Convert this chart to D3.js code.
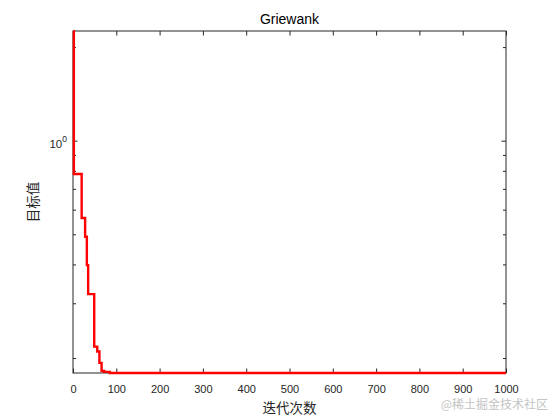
<!DOCTYPE html>
<html>
<head>
<meta charset="utf-8">
<script src="https://cdn.jsdelivr.net/npm/d3@7"></script>
<style>
  html, body { margin: 0; padding: 0; background: #fff; }
  svg { display: block; }
</style>
</head>
<body>
<svg id="chart" width="560" height="420"></svg>
<script>
// ---- data ----
const iterations = [1, 2, 20, 28, 32, 35, 49, 56, 61, 66, 72, 85, 1000];
const fitness    = [2.25, 0.781, 0.564, 0.491, 0.398, 0.321, 0.2176, 0.21, 0.193, 0.1817, 0.1805, 0.179, 0.179];
const xTicks = [0, 100, 200, 300, 400, 500, 600, 700, 800, 900, 1000];
const yMajorTicks = [1];
const yMinorTicks = [0.2, 0.3, 0.4, 0.5, 0.6, 0.7, 0.8, 0.9, 2];
const xDomain = [0, 1000];
const yDomain = [0.179, 2.253];
const titleText = "Griewank";
const xLabelText = "迭代次数";
const yLabelText = "目标值";
const watermarkText = "@稀土掘金技术社区";

// ---- layout ----
const L = 73, R = 506, T = 31, B = 373;
const axisColor = "#262626";
const numFont = "'Liberation Sans', Arial, Helvetica, sans-serif";
const cjkFont = "'Noto Sans CJK SC', sans-serif";

const svg = d3.select("#chart");
svg.append("rect").attr("width", 560).attr("height", 420).attr("fill", "#fff");

const x = d3.scaleLinear().domain(xDomain).range([L, R]);
const y = d3.scaleLog().domain(yDomain).range([B, T]);

function styleAxis(g) {
  g.select(".domain").remove();
  g.selectAll(".tick line").attr("stroke", axisColor).attr("stroke-width", 1);
  g.selectAll(".tick text").attr("fill", axisColor)
    .style("font-family", numFont).style("font-size", "11px");
}

// bottom x axis
svg.append("g").attr("transform", `translate(0,${B})`)
  .call(d3.axisBottom(x).tickValues(xTicks).tickSize(-4.5).tickPadding(12.5).tickFormat(d3.format("d")))
  .call(styleAxis);
// top x axis (ticks only)
svg.append("g").attr("transform", `translate(0,${T})`)
  .call(d3.axisTop(x).tickValues(xTicks).tickSize(-4.5).tickFormat(""))
  .call(styleAxis);

// left y axis major
const yLeft = svg.append("g").attr("transform", `translate(${L},0)`)
  .call(d3.axisLeft(y).tickValues(yMajorTicks).tickSize(-4.5).tickPadding(6))
  .call(styleAxis);
yLeft.selectAll(".tick text").each(function(d) {
  const t = d3.select(this).text(null).attr("dy", "0.55em").style("font-size", "11.5px");
  t.append("tspan").text("10");
  t.append("tspan").attr("dy", "-0.6em").style("font-size", "8.5px")
    .text(String(Math.round(Math.log10(d))));
});
// left y minor
svg.append("g").attr("transform", `translate(${L},0)`)
  .call(d3.axisLeft(y).tickValues(yMinorTicks).tickSize(-3).tickFormat(""))
  .call(styleAxis);
// right y major & minor
svg.append("g").attr("transform", `translate(${R},0)`)
  .call(d3.axisRight(y).tickValues(yMajorTicks).tickSize(-4.5).tickFormat(""))
  .call(styleAxis);
svg.append("g").attr("transform", `translate(${R},0)`)
  .call(d3.axisRight(y).tickValues(yMinorTicks).tickSize(-3).tickFormat(""))
  .call(styleAxis);

// box
svg.append("rect")
  .attr("x", x(xDomain[0])).attr("y", y(yDomain[1]))
  .attr("width", x(xDomain[1]) - x(xDomain[0]))
  .attr("height", y(yDomain[0]) - y(yDomain[1]))
  .attr("fill", "none").attr("stroke", axisColor).attr("stroke-width", 1);

// convergence curve
const pts = iterations.map((it, i) => ({ it, v: fitness[i] }));
const line = d3.line().x(d => x(d.it)).y(d => y(d.v)).curve(d3.curveStepAfter);
svg.append("path").datum(pts)
  .attr("d", line)
  .attr("fill", "none").attr("stroke", "#ff0000").attr("stroke-width", 2.4)
  .attr("stroke-linejoin", "miter");

// title
svg.append("text").attr("x", (L + R) / 2).attr("y", 23.5)
  .attr("text-anchor", "middle").attr("fill", "#000")
  .style("font-family", numFont).style("font-size", "14px")
  .text(titleText);

// x label
svg.append("text").attr("x", (L + R) / 2).attr("y", 413)
  .attr("text-anchor", "middle").attr("fill", axisColor)
  .style("font-family", cjkFont).style("font-size", "13.5px")
  .text(xLabelText);

// y label
svg.append("text")
  .attr("transform", `translate(33,${(T + B) / 2}) rotate(-90)`)
  .attr("text-anchor", "middle").attr("dy", "0.38em").attr("fill", axisColor)
  .style("font-family", cjkFont).style("font-size", "13.5px")
  .text(yLabelText);

// watermark
svg.append("text").attr("x", 548).attr("y", 409)
  .attr("text-anchor", "end").attr("fill", "#c4c4c4")
  .style("font-family", cjkFont).style("font-size", "12px")
  .text(watermarkText);
</script>
</body>
</html>
